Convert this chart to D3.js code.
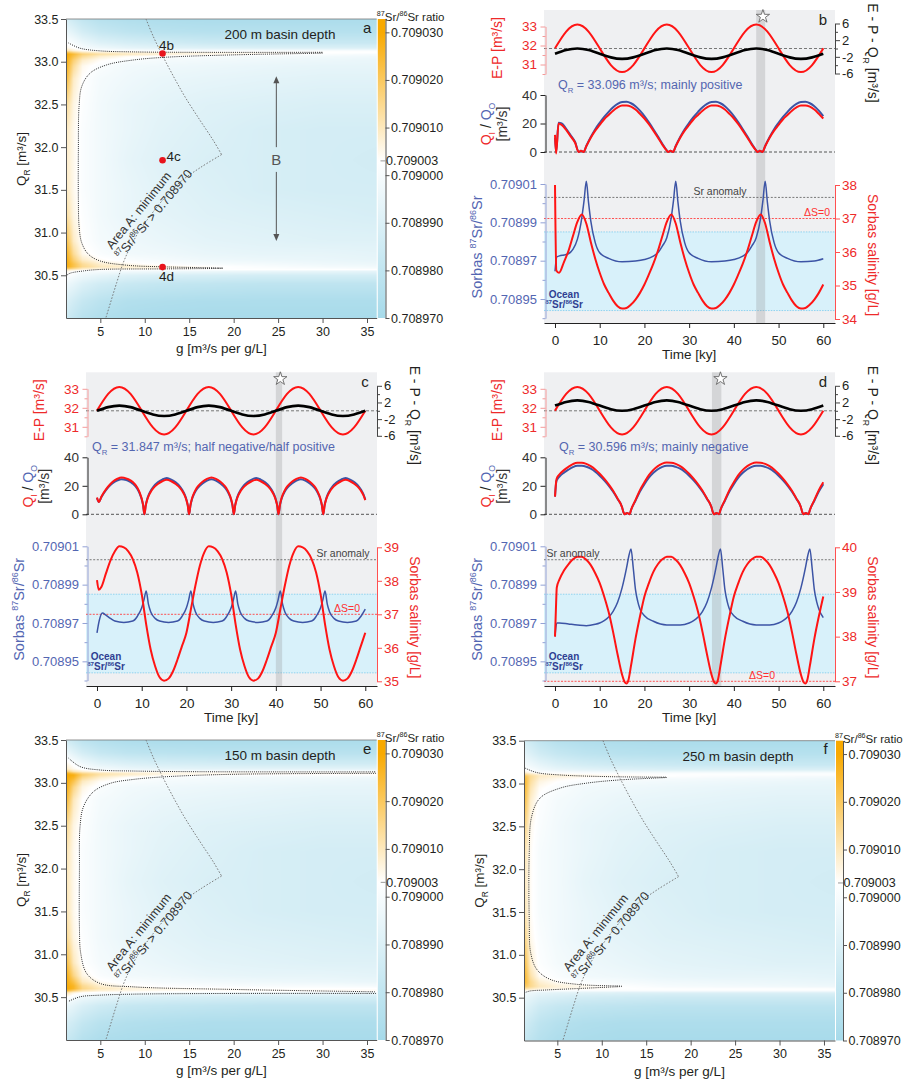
<!DOCTYPE html>
<html><head><meta charset="utf-8">
<script src="https://cdn.jsdelivr.net/npm/d3@7"></script>
<style>
body{margin:0;background:#fff;}
svg{display:block;}
</style></head><body>
<svg id="chart" width="924" height="1080"></svg>
<script>
// ================= DATA =================
// --- heat maps (panels a, e, f) ---
const basinDepths = [200, 150, 250];
const gCols = [1.1, 2, 3, 5, 8, 12, 17, 23, 30, 36.3];
const qrRows = [33.5, 33.35, 33.22, 33.16, 33.13, 33.115, 33.1, 33.085, 33.06, 33.02, 32.95, 32.8, 32.5, 32.2, 31.85, 31.5, 31.2, 30.9, 30.75, 30.68, 30.63, 30.6, 30.58, 30.565, 30.55, 30.5, 30.4, 30.2, 30.0];
// minimum 87Sr/86Sr, given as (ratio - 0.709000) x 1e6
const SR_BASE = 0.709, SR_UNIT = 1e-6;
const srOffsetA = [
[-12,-16,-20,-24,-26,-27,-28,-28,-28,-28],
[-4,-8,-13,-18,-21,-23,-24,-24,-24,-24],
[3,0,-4,-9,-12,-14,-16,-17,-17,-17],
[6,3,0,-3,-6,-8,-9,-10,-10,-10],
[12,7,4,2,1,0,0,0,0,0],
[20,13,8,6,5,4,4,3,3,3],
[27,20,14,10,8,7,6,5,3,2],
[30,24,17,12,9,7,5,3,1,-1],
[30,22,14,8,4,2,0,-1,-2,-3],
[30,18,9,4,1,-1,-2,-3,-4,-5],
[29,14,5,1,-2,-3,-4,-5,-6,-6],
[26,9,3,-1,-3,-5,-6,-7,-8,-8],
[15,6,2,-2,-5,-7,-9,-10,-11,-11],
[10,5,1,-2,-5,-8,-10,-12,-13,-13],
[9,5,1,-2,-6,-9,-11,-12,-13,-14],
[10,5,1,-2,-5,-8,-10,-12,-13,-13],
[14,6,2,-2,-5,-7,-9,-10,-11,-12],
[24,9,3,-1,-3,-5,-7,-8,-9,-9],
[29,14,5,1,-2,-3,-5,-6,-6,-7],
[30,18,9,4,1,-1,-3,-4,-5,-6],
[30,22,14,8,5,2,0,-1,-3,-4],
[29,22,15,10,8,6,4,1,-1,-2],
[22,16,10,7,6,5,3,2,1,0],
[12,9,6,4,3,3,3,3,3,3],
[6,3,1,0,-1,-2,-3,-4,-5,-6],
[3,0,-3,-6,-9,-11,-12,-13,-13,-13],
[-3,-6,-10,-14,-17,-19,-20,-21,-21,-21],
[-10,-14,-18,-22,-25,-26,-27,-27,-27,-27],
[-15,-19,-23,-26,-28,-29,-29,-29,-29,-29]];
const srOffsetE = [
[-14,-18,-22,-25,-27,-28,-28,-28,-28,-28],
[-3,-8,-13,-18,-21,-22,-23,-23,-23,-23],
[6,2,-2,-7,-10,-12,-13,-14,-14,-14],
[10,5,2,-1,-4,-6,-7,-7,-7,-7],
[20,12,8,5,4,3,3,3,3,3],
[28,20,14,10,8,6,5,4,4,4],
[30,26,18,12,9,6,5,4,4,4],
[30,28,18,11,7,4,2,1,1,1],
[30,26,15,8,3,1,-1,-2,-2,-3],
[30,22,10,4,1,-1,-2,-3,-4,-5],
[30,16,6,1,-2,-3,-4,-5,-6,-6],
[27,10,3,-1,-3,-5,-6,-7,-8,-8],
[16,6,2,-2,-5,-7,-9,-10,-11,-11],
[12,5,1,-2,-5,-8,-10,-12,-13,-13],
[11,5,1,-2,-6,-9,-11,-12,-13,-14],
[12,5,1,-2,-5,-8,-10,-12,-13,-13],
[16,6,2,-2,-5,-7,-9,-10,-11,-12],
[25,10,3,-1,-3,-5,-7,-8,-9,-9],
[30,16,6,1,-2,-3,-5,-6,-6,-7],
[30,22,10,4,1,-1,-2,-3,-4,-5],
[30,26,15,8,4,2,1,0,0,-1],
[30,26,16,10,7,5,4,3,3,3],
[28,20,12,8,6,5,4,4,4,4],
[20,13,8,5,4,3,3,3,3,3],
[12,6,3,1,0,-1,-2,-3,-4,-5],
[4,0,-3,-6,-9,-11,-12,-13,-13,-13],
[-4,-7,-11,-15,-18,-19,-20,-21,-21,-21],
[-12,-15,-19,-23,-25,-26,-27,-27,-27,-27],
[-17,-20,-24,-27,-28,-29,-29,-29,-29,-29]];
const srOffsetF = [
[-12,-16,-20,-24,-26,-27,-28,-28,-28,-28],
[-6,-10,-14,-18,-21,-23,-24,-24,-24,-24],
[0,-3,-6,-10,-13,-15,-16,-17,-17,-17],
[4,1,-2,-5,-7,-9,-10,-10,-10,-10],
[8,4,2,1,0,0,-1,-1,-1,-1],
[14,8,5,4,3,2,2,2,2,2],
[20,12,8,6,5,4,3,2,2,2],
[25,14,9,7,5,4,3,1,0,-1],
[28,14,8,5,3,2,0,-1,-2,-3],
[30,13,6,3,1,-1,-2,-3,-4,-5],
[30,11,4,1,-2,-3,-4,-5,-6,-6],
[28,8,2,-1,-3,-5,-6,-7,-8,-8],
[20,5,1,-2,-5,-7,-9,-10,-11,-11],
[14,4,0,-2,-5,-8,-10,-12,-13,-13],
[12,4,0,-2,-6,-9,-11,-12,-13,-14],
[14,4,0,-2,-5,-8,-10,-12,-13,-13],
[20,5,1,-2,-5,-7,-9,-10,-11,-12],
[28,8,2,-1,-3,-5,-7,-8,-9,-9],
[30,12,4,1,-2,-3,-5,-6,-6,-7],
[28,15,8,4,2,0,-2,-3,-4,-5],
[22,15,10,7,5,3,0,-1,-2,-3],
[12,9,6,5,4,3,3,3,3,3],
[5,3,2,1,1,1,1,1,1,1],
[0,-2,-4,-5,-6,-7,-7,-7,-7,-7],
[-2,-4,-6,-8,-9,-10,-11,-11,-11,-11],
[-4,-7,-10,-12,-14,-15,-16,-16,-16,-16],
[-7,-11,-15,-18,-20,-21,-22,-22,-22,-22],
[-13,-17,-21,-24,-26,-27,-27,-27,-27,-27],
[-17,-21,-24,-27,-28,-29,-29,-29,-29,-29]];
const colorTicks = [0.70897, 0.70898, 0.70899, 0.709, 0.70901, 0.70902, 0.70903];
const srAnomaly = 0.709003;
const qrTicks = [30.5, 31, 31.5, 32, 32.5, 33, 33.5];
const gTicks = [5, 10, 15, 20, 25, 30, 35];
// contour 0.709003 (g, QR)
const contourTopA = [[1.41,33.22],[2.72,33.158],[4.97,33.127],[8.71,33.115],[16.2,33.11],[30.0,33.11]];
const contourMidA = [[30.0,33.1],[19.95,33.08],[12.46,33.053],[8.71,33.02],[5.72,32.963],[3.85,32.866],[2.91,32.71],[2.61,32.477],[2.53,31.97],[2.53,31.39],[2.61,31.076],[2.91,30.88],[3.66,30.746],[4.97,30.668],[7.97,30.618],[12.46,30.598],[18.75,30.586]];
const contourBotA = [[18.75,30.58],[12.46,30.575],[4.97,30.568],[3.1,30.551],[1.6,30.524],[1.22,30.5]];
const contourTopE = [[1.41,33.29],[2.72,33.19],[4.97,33.15],[8.71,33.138],[16.2,33.13],[36.0,33.128]];
const contourMidE = [[36.0,33.111],[19.95,33.1],[12.46,33.072],[8.71,33.04],[6.1,32.994],[4.23,32.897],[3.1,32.72],[2.72,32.49],[2.65,31.98],[2.65,31.32],[2.8,31.01],[3.47,30.776],[4.97,30.66],[8.71,30.62],[19.95,30.59],[36.0,30.562]];
const contourBotE = [[36.0,30.543],[19.95,30.543],[8.71,30.535],[4.97,30.523],[2.72,30.504],[1.41,30.45]];
const contourTopF = [[1.37,33.18],[2.69,33.128],[5.3,33.10],[10.9,33.08],[17.3,33.074]];
const contourMidF = [[17.3,33.07],[12.0,33.042],[8.26,33.004],[5.3,32.946],[3.05,32.83],[2.11,32.615],[1.84,32.19],[1.84,31.41],[2.0,31.025],[2.69,30.83],[4.18,30.714],[7.18,30.656],[12.24,30.636]];
const contourBotF = [[12.24,30.63],[7.18,30.606],[3.81,30.59],[1.93,30.578],[1.37,30.56]];
// Area A boundary (minimum 87Sr/86Sr > 0.708970)
const areaAUpper = [[10.14,33.5],[10.96,33.295],[11.97,33.078],[13.21,32.832],[14.56,32.583],[16.21,32.315],[17.7,32.08],[18.64,31.913]];
const areaALower = [[18.64,31.913],[16.21,31.758],[13.96,31.59],[12.08,31.388],[10.59,31.193],[9.27,30.999],[8.34,30.824],[7.59,30.649],[6.85,30.416],[5.64,30.007]];
const runLabels = ['4b', '4c', '4d'];
const runG = [12, 12, 12];
const qrValues = [33.096, 31.847, 30.596];
const qrRegimes = ['mainly positive', 'half negative/half positive', 'mainly negative'];
const arrowB = {g: 24.8, top: 32.83, bottom: 30.9, gapTop: 32.0, gapBottom: 31.71, labelQR: 31.85};

// --- time series (panels b, c, d) ---
const timeTicks = [0, 10, 20, 30, 40, 50, 60];
const timeEP = [0,2.5,5,7.5,10,12.5,15,17.5,20,22.5,25,27.5,30,32.5,35,37.5,40,42.5,45,47.5,50,52.5,55,57.5,60];
const evapPrecip = [31.85,32.73,33.10,32.73,31.85,30.97,30.60,30.97,31.85,32.73,33.10,32.73,31.85,30.97,30.60,30.97,31.85,32.73,33.10,32.73,31.85,30.97,30.60,30.97,31.85];
const netB = [-1.25,-0.37,0,-0.37,-1.25,-2.13,-2.5,-2.13,-1.25,-0.37,0,-0.37,-1.25,-2.13,-2.5,-2.13,-1.25,-0.37,0,-0.37,-1.25,-2.13,-2.5,-2.13,-1.25];
const netC = [0,0.88,1.25,0.88,0,-0.88,-1.25,-0.88,0,0.88,1.25,0.88,0,-0.88,-1.25,-0.88,0,0.88,1.25,0.88,0,-0.88,-1.25,-0.88,0];
const netD = [1.25,2.13,2.5,2.13,1.25,0.37,0,0.37,1.25,2.13,2.5,2.13,1.25,0.37,0,0.37,1.25,2.13,2.5,2.13,1.25,0.37,0,0.37,1.25];

const timeQB = [0,0.25,0.8,1.5,2.5,3.5,4.5,5.3,5.8,6.4,7,8,9,10,11,12,13,14,15,16,17,18,19,20,21,22,23,24,25,25.3,25.8,26.4,27,28,29,30,31,32,33,34,35,36,37,38,39,40,41,42,43,44,45,45.3,45.8,46.4,47,48,49,50,51,52,53,54,55,56,57,58,59,60];
const inflowB = [12,-1,20,19,15.5,11,6.5,0,0.8,0,4,10,15,19,23,26,29,31.3,32.7,32.7,31.8,29.8,26.8,23.5,19.5,15,10.2,5.2,1,0,0.8,0,4,10,15,19,23,26,29,31.3,32.7,32.7,31.8,29.8,26.8,23.5,19.5,15,10.2,5.2,1,0,0.8,0,4,10,15,19,23,26,29,31.3,32.7,32.7,31.8,29.8,26.8,23.5];
const outflowB = [10,0,20.5,20,16.3,11.8,7,0,0.8,0,4.2,10.5,16,20.5,24.6,28.2,31.4,33.8,35.1,35.2,34.2,32.1,29,25.2,20.8,16,11,5.8,1.1,0,0.8,0,4.2,10.5,16,20.5,24.6,28.2,31.4,33.8,35.1,35.2,34.2,32.1,29,25.2,20.8,16,11,5.8,1.1,0,0.8,0,4.2,10.5,16,20.5,24.6,28.2,31.4,33.8,35.1,35.2,34.2,32.1,29,25.2];
const timeQC = [0,0.4,1,2,3,4,5,5.5,6,7,8,9,9.6,10,10.3,10.6,10.9,11.2,11.6,12.1,12.6,13.6,14.6,15.6,16.6,17.6,18.6,19.1,19.6,20,20.3,20.6,20.9,21.2,21.6,22.1,22.6,23.6,24.6,25.6,26.6,27.6,28.6,29.1,29.6,30,30.3,30.6,30.9,31.2,31.6,32.1,32.6,33.6,34.6,35.6,36.6,37.6,38.6,39.1,39.6,40,40.3,40.6,40.9,41.2,41.6,42.1,42.6,43.6,44.6,45.6,46.6,47.6,48.6,49.1,49.6,50,50.3,50.6,50.9,51.2,51.6,52.1,52.6,53.6,54.6,55.6,56.6,57.6,58.6,59.1,59.6,60];
const inflowC = [11.8,8.7,12.5,17.5,21.3,24,25.5,25.9,25.7,24.6,22.6,18.8,14.8,11,6.8,0,
6.1,9.9,13.3,16.2,18.4,21.3,23.2,24.2,23.2,21.3,18.4,16.2,13.3,9.9,6.1,0,
6.5,10.6,14.2,17.4,19.7,22.8,24.9,25.9,24.9,22.8,19.7,17.4,14.2,10.6,6.5,0,
6.1,9.9,13.3,16.2,18.4,21.3,23.2,24.2,23.2,21.3,18.4,16.2,13.3,9.9,6.1,0,
6.5,10.6,14.2,17.4,19.7,22.8,24.9,25.9,24.9,22.8,19.7,17.4,14.2,10.6,6.5,0,
6.1,9.9,13.3,16.2,18.4,21.3,23.2,24.2,23.2,21.3,18.4,16.2,13.3,9.9];
const outflowC = [11.5,8.7,12.2,17,20.6,23,24.3,24.6,24.4,23.5,21.5,17.9,14.1,10.5,6.5,0,
6.4,10.4,14,17,19.3,22.4,24.4,25.4,24.4,22.4,19.3,17,14,10.4,6.4,0,
6.2,10.1,13.5,16.5,18.7,21.6,23.6,24.6,23.6,21.6,18.7,16.5,13.5,10.1,6.2,0,
6.4,10.4,14,17,19.3,22.4,24.4,25.4,24.4,22.4,19.3,17,14,10.4,6.4,0,
6.2,10.1,13.5,16.5,18.7,21.6,23.6,24.6,23.6,21.6,18.7,16.5,13.5,10.1,6.2,0,
6.4,10.4,14,17,19.3,22.4,24.4,25.4,24.4,22.4,19.3,17,14,10.4];
const timeQD = [0,0.3,0.6,1,2,3,4,5,6,7,8,9,10,11,12,13,14,15,15.3,15.6,16.1,16.7,17,18,19,20,21,22,23,24,25,26,27,28,29,30,31,32,33,34,35,35.3,35.6,36.1,36.7,37,38,39,40,41,42,43,44,45,46,47,48,49,50,51,52,53,54,55,55.3,55.6,56.1,56.7,57,58,59,60];
const inflowD = [12.4,24,26.5,28,31,33.3,35.2,36.2,36.2,35.4,33.8,31.5,28.5,25,21,16.5,11,5,1.5,0,1,0,
3,10,17,22.5,27.5,31.2,33.8,35.6,36.3,36.2,35.4,33.8,31.5,28.5,25,21,16.5,11,5,1.5,0,1,0,
3,10,17,22.5,27.5,31.2,33.8,35.6,36.3,36.2,35.4,33.8,31.5,28.5,25,21,16.5,11,5,1.5,0,1,0,
3,10,17,22.5];
const outflowD = [12.4,23,25,26.5,29.2,31.3,33.1,34,34,33.4,32,29.9,27.1,23.9,20.2,15.9,10.8,5,1.5,0,1,0,
3,9.5,16,21.2,25.7,29.1,31.6,33.3,34,34,33.3,32,29.9,27.1,23.9,20.2,15.9,10.8,5,1.5,0,1,0,
3,9.5,16,21.2,25.7,29.1,31.6,33.3,34,34,33.3,32,29.9,27.1,23.9,20.2,15.9,10.8,5,1.5,0,1,0,
3,9.5,16,21.2];

const timeSrB = [0,0.4,1,2,3,4,5,6,6.5,7,7.5,8,9,10,12,15,18,20,22,23,24,25,26,26.5,27,27.5,28,29,30,32,35,38,40,42,43,44,45,46,46.5,47,47.5,48,49,50,52,55,58,60];
const srB = [0.7089645,0.7089719,0.7089725,0.708973,0.7089736,0.7089759,0.7089811,0.7089925,0.7090013,0.7090114,0.7090004,0.7089908,0.7089794,0.7089741,
0.7089712,0.7089694,0.7089698,0.7089706,0.7089724,0.7089741,0.7089776,0.708982,
0.7089925,0.7090013,0.7090114,0.7090004,0.7089908,0.7089794,0.7089741,
0.7089712,0.7089694,0.7089698,0.7089706,0.7089724,0.7089741,0.7089776,0.708982,
0.7089925,0.7090013,0.7090114,0.7090004,0.7089908,0.7089794,0.7089741,
0.7089712,0.7089694,0.7089698,0.708971];
const timeSrC = [0,0.5,1.2,2,3,4,6,8,9,10,10.5,11,11.5,12,13,14,16,18,19,20,20.5,21,21.5,22,23,24,26,28,29,30,30.5,31,31.5,32,33,34,36,38,39,40,40.5,41,41.5,42,43,44,46,48,49,50,50.5,51,51.5,52,53,54,56,58,59,60];
const srC = [0.7089648,0.7089712,0.7089752,0.7089741,0.7089724,0.708971,0.7089703,
0.708971,0.7089734,0.7089779,0.708982,0.7089867,0.7089798,0.7089759,0.7089724,0.708971,0.7089703,
0.708971,0.7089734,0.7089779,0.708982,0.7089867,0.7089798,0.7089759,0.7089724,0.708971,0.7089703,
0.708971,0.7089734,0.7089779,0.708982,0.7089867,0.7089798,0.7089759,0.7089724,0.708971,0.7089703,
0.708971,0.7089734,0.7089779,0.708982,0.7089867,0.7089798,0.7089759,0.7089724,0.708971,0.7089703,
0.708971,0.7089734,0.7089779,0.708982,0.7089867,0.7089798,0.7089759,0.7089724,0.708971,0.7089703,
0.708971,0.7089734,0.7089772];
const timeSrD = [0,0.4,1,3,5,7,9,10,11,12,13,14,15,16,16.5,17,17.5,18,18.5,19,20,22,25,28,30,31,32,33,34,35,36,36.5,37,37.5,38,38.5,39,40,42,45,48,50,51,52,53,54,55,56,56.5,57,57.5,58,58.5,59,60];
const srD = [0.708963,0.70897,0.70897,0.7089695,0.708969,0.7089686,0.7089693,
0.70897,0.7089712,0.7089731,0.7089761,0.7089808,0.7089883,0.7089987,0.7090048,0.7090086,0.7089987,0.7089874,0.7089813,0.7089773,0.7089738,
0.7089709,0.708969,0.708969,
0.70897,0.7089712,0.7089731,0.7089761,0.7089808,0.7089883,0.7089987,0.7090048,0.7090086,0.7089987,0.7089874,0.7089813,0.7089773,0.7089738,
0.7089709,0.708969,0.708969,
0.70897,0.7089712,0.7089731,0.7089761,0.7089808,0.7089883,0.7089987,0.7090048,0.7090086,0.7089987,0.7089874,0.7089813,0.7089773,0.7089728];

const timeSalB = [0,0.3,0.9,2,3,4,5,6,7,8,9,10,11,12,13,14,15,16,17,18,19,20,21,22,23,24,25,26,27,28,29,30,31,32,33,34,35,36,37,38,39,40,41,42,43,44,45,46,47,48,49,50,51,52,53,54,55,56,57,58,59,60];
const salinityB = [38,35.45,35.38,35.7,36.03,36.47,36.9,
37.12,36.85,36.3,35.8,35.38,35.03,34.78,34.55,34.38,34.31,34.33,34.43,34.58,34.78,35.03,35.33,35.65,36.03,36.47,36.9,
37.12,36.85,36.3,35.8,35.38,35.03,34.78,34.55,34.38,34.31,34.33,34.43,34.58,34.78,35.03,35.33,35.65,36.03,36.47,36.9,
37.12,36.85,36.3,35.8,35.38,35.03,34.78,34.55,34.38,34.31,34.33,34.43,34.58,34.78,35.03];
const timeSalC = [0,0.4,1,2,3,4,5,6,7,8,9,10,11,12,13,14,15,16,17,18,19,20,21,22,23,24,25,26,27,28,29,30,31,32,33,34,35,36,37,38,39,40,41,42,43,44,45,46,47,48,49,50,51,52,53,54,55,56,57,58,59,60];
const salinityC = [38.02,37.73,37.82,38.22,38.6,38.88,39.03,
39.0,38.88,38.65,38.25,37.6,36.7,35.95,35.45,35.12,35.02,35.08,35.3,35.65,36.05,36.45,37.15,37.85,38.45,38.85,39.03,
39.0,38.88,38.65,38.25,37.6,36.7,35.95,35.45,35.12,35.02,35.08,35.3,35.65,36.05,36.45,37.15,37.85,38.45,38.85,39.03,
39.0,38.88,38.65,38.25,37.6,36.7,35.95,35.45,35.12,35.02,35.08,35.3,35.65,36.05,36.45];
const timeSalD = [0,0.2,0.4,1,2,3,4,5,6,7,8,9,10,11,12,13,14,15,15.6,16,16.4,17,18,19,20,21,22,23,24,25,26,27,28,29,30,31,32,33,34,35,35.6,36,36.4,37,38,39,40,41,42,43,44,45,46,47,48,49,50,51,52,53,54,55,55.6,56,56.4,57,58,59,60];
const salinityD = [38,38.6,39.1,39.28,39.48,39.62,39.73,39.79,
39.79,39.72,39.6,39.42,39.2,38.9,38.55,38.1,37.6,37.15,36.98,36.95,37.02,
37.35,37.95,38.45,38.9,39.2,39.45,39.62,39.73,39.79,39.79,39.72,39.6,39.42,39.2,38.9,38.55,38.1,37.6,37.15,36.98,36.95,37.02,
37.35,37.95,38.45,38.9,39.2,39.45,39.62,39.73,39.79,39.79,39.72,39.6,39.42,39.2,38.9,38.55,38.1,37.6,37.15,36.98,36.95,37.02,
37.35,37.95,38.45,38.9];
const oceanSr = [0.708944, 0.708985];
const salinityZero = 37; // ΔS = 0
const highlightB = [45, 47], highlightC = [40.0, 41.4], highlightD = [35.1, 37.2];
const starT = [46.5, 41.0, 37.0];

// ================= DRAWING =================
const FONT = 'Arial, "Liberation Sans", Helvetica, sans-serif';
const RED = '#ff1414', RED_TXT = '#ee2a2a', RED_AX = '#f59a9a';
const BLUE_LINE = '#3c54a5', BLUE_TXT = '#5366b2', BLUE_AX = '#93a2d6';
const TXT = '#231f20';
const svg = d3.select('#chart').attr('font-family', FONT);
const defs = svg.append('defs');

function rich(parent, o) {
  const size = o.size;
  const t = parent.append('text')
    .attr('transform', `translate(${o.x},${o.y}) rotate(${o.rotate || 0})`)
    .attr('y', o.center ? size * 0.35 : 0)
    .attr('font-size', size).attr('fill', o.fill || TXT)
    .attr('text-anchor', o.anchor || 'middle');
  if (o.weight) t.attr('font-weight', o.weight);
  let shift = 0;
  o.parts.forEach(p => {
    if (typeof p === 'string') p = {t: p};
    const target = p.sub ? size * 0.3 : (p.sup ? -size * 0.4 : 0);
    const ts = t.append('tspan').text(p.t);
    if (target - shift !== 0) ts.attr('dy', target - shift);
    if (p.sub || p.sup) ts.attr('font-size', size * 0.62);
    if (p.fill) ts.attr('fill', p.fill);
    shift = target;
  });
  return t;
}
function styleAxis(sel, lineColor, textColor, size) {
  sel.attr('font-family', FONT).attr('font-size', size);
  sel.selectAll('path.domain').attr('stroke', lineColor).attr('stroke-width', 1);
  sel.selectAll('.tick line').attr('stroke', lineColor);
  sel.selectAll('.tick text').attr('fill', textColor);
}
function hLine(G, x0, x1, y, color, dash, w) {
  G.append('line').attr('x1', x0).attr('x2', x1).attr('y1', y).attr('y2', y)
    .attr('stroke', color).attr('stroke-width', w || 0.9).attr('stroke-dasharray', dash);
}

// ---- colour scale for Sr ratio ----
const srColor = d3.scaleLinear().domain([0.70897, 0.709003, 0.70903])
  .range(['#a6daea', '#ffffff', '#f8a900']).clamp(true);
const LUT = d3.range(0, 801).map(k => d3.rgb(srColor(0.70896 + k * 1e-7)));
function colorAt(v) {
  const k = Math.max(0, Math.min(800, Math.round((v - 0.70896) / 1e-7)));
  return LUT[k];
}

function drawHeat(p) {
  const G = svg.append('g');
  const x = d3.scaleLinear().domain(p.gDomain).range([p.x0, p.x1]);
  const y = d3.scaleLinear().domain([30, 33.5]).range([p.y1, p.y0]);
  const W = Math.round(p.x1 - p.x0), H = Math.round(p.y1 - p.y0);
  const cv = document.createElement('canvas'); cv.width = W; cv.height = H;
  const ctx = cv.getContext('2d');
  const img = ctx.createImageData(W, H);
  const rows = qrRows.slice().reverse();
  const mat = p.grid.slice().reverse();
  for (let py = 0; py < H; py++) {
    const q = y.invert(p.y0 + (py + 0.5) * (p.y1 - p.y0) / H);
    const j = Math.max(0, Math.min(rows.length - 2, d3.bisectRight(rows, q) - 1));
    const tq = Math.max(0, Math.min(1, (q - rows[j]) / (rows[j + 1] - rows[j])));
    for (let px = 0; px < W; px++) {
      const gv = x.invert(p.x0 + (px + 0.5) * (p.x1 - p.x0) / W);
      const i = Math.max(0, Math.min(gCols.length - 2, d3.bisectRight(gCols, gv) - 1));
      const tg = Math.max(0, Math.min(1, (gv - gCols[i]) / (gCols[i + 1] - gCols[i])));
      const a = mat[j][i] + (mat[j][i + 1] - mat[j][i]) * tg;
      const b = mat[j + 1][i] + (mat[j + 1][i + 1] - mat[j + 1][i]) * tg;
      const c = colorAt(SR_BASE + (a + (b - a) * tq) * SR_UNIT);
      const k = (py * W + px) * 4;
      img.data[k] = c.r; img.data[k + 1] = c.g; img.data[k + 2] = c.b; img.data[k + 3] = 255;
    }
  }
  ctx.putImageData(img, 0, 0);
  G.append('image').attr('x', p.x0).attr('y', p.y0).attr('width', p.x1 - p.x0).attr('height', p.y1 - p.y0)
    .attr('preserveAspectRatio', 'none').attr('href', cv.toDataURL());

  const line = d3.line().x(d => x(d[0])).y(d => y(d[1])).curve(d3.curveCatmullRom.alpha(0.5));
  p.contours.forEach(c => G.append('path').attr('d', line(c)).attr('fill', 'none')
    .attr('stroke', '#2a2a2a').attr('stroke-width', 1).attr('stroke-dasharray', '1 1.1'));
  [areaAUpper, areaALower].forEach(c => G.append('path').attr('d', line(c)).attr('fill', 'none')
    .attr('stroke', '#707070').attr('stroke-width', 0.9).attr('stroke-dasharray', '1.6 1.6'));

  rich(G, {x: x(9.3), y: y(31.26), rotate: -51, size: 12.5, fill: '#333', center: true, parts: ['Area A: minimum']});
  rich(G, {x: x(11.0), y: y(31.24) + 2, rotate: -50, size: 12.5, fill: '#333', center: true,
    parts: [{t: '87', sup: true}, 'Sr/', {t: '86', sup: true}, 'Sr > 0.708970']});

  G.append('line').attr('x1', p.x0).attr('x2', p.x1).attr('y1', p.y0).attr('y2', p.y0).attr('stroke', '#777').attr('stroke-width', 0.8);
  const ya = G.append('g').attr('transform', `translate(${p.x0},0)`)
    .call(d3.axisLeft(y).tickValues(qrTicks).tickFormat(d3.format('.1f')).tickSize(5).tickSizeOuter(0).tickPadding(2.5));
  styleAxis(ya, '#555', TXT, 12.5);
  const xa = G.append('g').attr('transform', `translate(0,${p.y1})`)
    .call(d3.axisBottom(x).tickValues(gTicks).tickSize(5).tickSizeOuter(0).tickPadding(4));
  styleAxis(xa, '#555', TXT, 12.5);
  G.append('text').attr('x', (p.x0 + p.x1) / 2).attr('y', p.y1 + 35).attr('text-anchor', 'middle')
    .attr('font-size', 13.5).attr('fill', TXT).text('g [m³/s per g/L]');
  rich(G, {x: p.x0 - 45, y: p.y0 + 140, rotate: -90, size: 13.5, center: true, parts: ['Q', {t: 'R', sub: true}, ' [m³/s]']});

  G.append('text').attr('x', p.x0 + 214).attr('y', p.y0 + 20).attr('text-anchor', 'middle')
    .attr('font-size', 13.5).attr('fill', TXT).text(p.depth + ' m basin depth');
  G.append('text').attr('x', p.x1 - 9.5).attr('y', p.y0 + 13.5).attr('text-anchor', 'middle')
    .attr('font-size', 15).attr('fill', TXT).text(p.letter);

  // colour bar
  const cb = d3.scaleLinear().domain([0.70897, 0.7090328]).range([p.y1, p.y0]);
  const gid = 'cbg' + p.letter;
  const grad = defs.append('linearGradient').attr('id', gid).attr('x1', 0).attr('y1', 0).attr('x2', 0).attr('y2', 1);
  [0.7090328, 0.70903, 0.709003, 0.70897].forEach(v => grad.append('stop')
    .attr('offset', (cb(v) - p.y0) / (p.y1 - p.y0)).attr('stop-color', srColor(v)));
  G.append('rect').attr('x', p.cbx0).attr('y', p.y0).attr('width', p.cbx1 - p.cbx0).attr('height', p.y1 - p.y0)
    .attr('fill', `url(#${gid})`);
  const ca = G.append('g').attr('transform', `translate(${p.cbx1},0)`)
    .call(d3.axisRight(cb).tickValues(colorTicks).tickFormat(d3.format('.6f')).tickSize(4).tickSizeOuter(0).tickPadding(1.5));
  styleAxis(ca, '#555', TXT, 12.5);
  G.append('line').attr('x1', p.cbx1 - 5).attr('x2', p.cbx1).attr('y1', cb(srAnomaly)).attr('y2', cb(srAnomaly))
    .attr('stroke', '#999').attr('stroke-width', 1);
  G.append('text').attr('x', p.cbx1 + 0.5).attr('y', cb(srAnomaly)).attr('dy', '0.35em')
    .attr('font-size', 12.5).attr('fill', TXT).text(d3.format('.6f')(srAnomaly));
  rich(G, {x: p.cbx0 - 1, y: p.y0 + 2, size: 11.5, anchor: 'start',
    parts: [{t: '87', sup: true}, 'Sr/', {t: '86', sup: true}, 'Sr ratio']});

  if (p.points) {
    const ax = x(arrowB.g);
    G.append('line').attr('x1', ax).attr('x2', ax).attr('y1', y(arrowB.top) + 3).attr('y2', y(arrowB.gapTop)).attr('stroke', '#555').attr('stroke-width', 1);
    G.append('line').attr('x1', ax).attr('x2', ax).attr('y1', y(arrowB.gapBottom)).attr('y2', y(arrowB.bottom) - 3).attr('stroke', '#555').attr('stroke-width', 1);
    G.append('path').attr('d', `M${ax - 3},${y(arrowB.top) + 7}L${ax},${y(arrowB.top)}L${ax + 3},${y(arrowB.top) + 7}Z`).attr('fill', '#555');
    G.append('path').attr('d', `M${ax - 3},${y(arrowB.bottom) - 7}L${ax},${y(arrowB.bottom)}L${ax + 3},${y(arrowB.bottom) - 7}Z`).attr('fill', '#555');
    G.append('text').attr('x', ax).attr('y', y(arrowB.labelQR)).attr('dy', '0.36em').attr('text-anchor', 'middle')
      .attr('font-size', 15).attr('fill', '#555').text('B');
    runLabels.forEach((lab, k) => {
      const px = x(runG[k]), py = y(qrValues[k]);
      G.append('circle').attr('cx', px).attr('cy', py).attr('r', 3.3).attr('fill', '#e8141c');
      const t = G.append('text').attr('font-size', 13.5).attr('fill', TXT).text(lab);
      if (k === 0) t.attr('x', px + 4).attr('y', py - 4).attr('text-anchor', 'middle');
      if (k === 1) t.attr('x', px + 4).attr('y', py + 1).attr('text-anchor', 'start');
      if (k === 2) t.attr('x', px + 4).attr('y', py + 14).attr('text-anchor', 'middle');
    });
  }
}

const timeDomain = [-2.46, 62.62];
function drawSeries(p) {
  const G = svg.append('g');
  const X = d3.scaleLinear().domain(timeDomain).range([p.gx0, p.gx1]);
  const t0 = p.gy0;
  const yEP = d3.scaleLinear().domain([30.5, 33]).range([t0 + 64, t0 + 16.5]);
  const yNet = d3.scaleLinear().domain([-6, 6]).range([t0 + 63.5, t0 + 13.5]);
  const yQ = d3.scaleLinear().domain([0, 40]).range([t0 + 142, t0 + 85]);
  const ySr = d3.scaleLinear().domain([0.70894, 0.70901]).range([t0 + 308.2, t0 + 174]);
  const ySal = d3.scaleLinear().domain(p.salDomain).range([t0 + 309, t0 + 175]);
  const W = p.gx1 - p.gx0, Ht = p.gy1 - p.gy0;

  G.append('rect').attr('x', p.gx0).attr('y', p.gy0).attr('width', W).attr('height', Ht).attr('fill', '#eff0f2');
  G.append('rect').attr('x', p.gx0).attr('width', W).attr('y', ySr(oceanSr[1])).attr('height', ySr(oceanSr[0]) - ySr(oceanSr[1]))
    .attr('fill', '#d8f1fa');
  oceanSr.forEach(v => hLine(G, p.gx0, p.gx1, ySr(v), '#86cfee', '1.5 1.2', 0.9));
  G.append('rect').attr('x', X(p.band[0])).attr('width', X(p.band[1]) - X(p.band[0])).attr('y', p.gy0).attr('height', Ht)
    .attr('fill', '#8e8e94').attr('opacity', 0.28);

  hLine(G, p.gx0, p.gx1, yNet(0), '#6a6a6a', '3 2', 0.9);
  hLine(G, p.gx0, p.gx1, yQ(0), '#444', '3 2', 0.9);
  hLine(G, p.gx0, p.gx1, ySr(srAnomaly), '#6a6a6a', '2 1.6', 0.9);
  hLine(G, p.gx0, p.gx1, ySal(salinityZero), '#ff4040', '2 1.4', 0.9);

  const mk = (xs, ys, yS, curve) => d3.line().x((d, i) => X(xs[i])).y(d => yS(d)).curve(curve)(ys);
  G.append('path').attr('d', mk(timeEP, evapPrecip, yEP, d3.curveNatural)).attr('fill', 'none').attr('stroke', RED).attr('stroke-width', 2);
  G.append('path').attr('d', mk(timeEP, p.net, yNet, d3.curveNatural)).attr('fill', 'none').attr('stroke', '#000').attr('stroke-width', 2.6);
  G.append('path').attr('d', mk(p.qT, p.qO, yQ, d3.curveMonotoneX)).attr('fill', 'none').attr('stroke', BLUE_LINE).attr('stroke-width', 2);
  G.append('path').attr('d', mk(p.qT, p.qI, yQ, d3.curveMonotoneX)).attr('fill', 'none').attr('stroke', RED).attr('stroke-width', 2);
  G.append('path').attr('d', mk(p.srT, p.sr, ySr, d3.curveMonotoneX)).attr('fill', 'none').attr('stroke', BLUE_LINE).attr('stroke-width', 1.5);
  G.append('path').attr('d', mk(p.salT, p.sal, ySal, d3.curveMonotoneX)).attr('fill', 'none').attr('stroke', RED).attr('stroke-width', 2);

  G.append('path').attr('d', d3.symbol(d3.symbolStar, 55)()).attr('transform', `translate(${X(p.star)},${t0 + 6.5})`)
    .attr('fill', '#fff').attr('stroke', '#666').attr('stroke-width', 0.9);

  rich(G, {x: p.gx0 + p.qrX, y: t0 + 79, size: 12.5, anchor: 'start', fill: '#5466b0',
    parts: ['Q', {t: 'R', sub: true}, ` = ${p.qr} m³/s; ${p.regime}`]});
  G.append('text').attr('x', p.gx0 + p.anomX).attr('y', ySr(srAnomaly) - 2.5).attr('text-anchor', 'middle')
    .attr('font-size', 10.5).attr('fill', '#444').text('Sr anomaly');
  G.append('text').attr('x', p.gx0 + p.dsX).attr('y', ySal(salinityZero) - 2.5).attr('text-anchor', 'middle')
    .attr('font-size', 10.5).attr('fill', '#ff3030').text('ΔS=0');
  G.append('text').attr('x', p.gx0 + 20).attr('y', t0 + 287.5).attr('text-anchor', 'middle')
    .attr('font-size', 10).attr('font-weight', 'bold').attr('fill', '#2f3f92').text('Ocean');
  rich(G, {x: p.gx0 + 20, y: t0 + 298, size: 10, weight: 'bold', fill: '#2f3f92',
    parts: [{t: '87', sup: true}, 'Sr/', {t: '86', sup: true}, 'Sr']});
  G.append('text').attr('x', p.gx1 - 12).attr('y', t0 + 15).attr('text-anchor', 'middle')
    .attr('font-size', 15).attr('fill', TXT).text(p.letter);

  const ax0 = p.gx0 + 1.5;
  const aEP = G.append('g').attr('transform', `translate(${ax0},0)`)
    .call(d3.axisLeft(yEP).tickValues([31, 32, 33]).tickFormat(d3.format('d')).tickSize(5).tickSizeOuter(0).tickPadding(3.5));
  styleAxis(aEP, RED_AX, RED_TXT, 13.5);
  G.append('g').attr('transform', `translate(${ax0},0)`)
    .call(d3.axisLeft(yEP).tickValues([30.5, 31.5, 32.5]).tickSize(3).tickFormat(''))
    .call(s => s.select('.domain').remove()).selectAll('line').attr('stroke', RED_AX);

  const aNet = G.append('g').attr('transform', `translate(${p.gx1},0)`)
    .call(d3.axisRight(yNet).tickValues([-6, -2, 2, 6]).tickFormat(d => String(d)).tickSize(5).tickSizeOuter(0).tickPadding(2));
  styleAxis(aNet, '#444', TXT, 13);
  G.append('g').attr('transform', `translate(${p.gx1},0)`)
    .call(d3.axisRight(yNet).tickValues([-4, 0, 4]).tickSize(3).tickFormat(''))
    .call(s => s.select('.domain').remove()).selectAll('line').attr('stroke', '#444');

  const aQ = G.append('g').attr('transform', `translate(${ax0},0)`)
    .call(d3.axisLeft(yQ).tickValues([0, 20, 40]).tickSize(5).tickSizeOuter(0).tickPadding(3.5));
  styleAxis(aQ, '#222', '#333', 13.5);

  const aSr = G.append('g').attr('transform', `translate(${ax0},0)`)
    .call(d3.axisLeft(ySr).tickValues([0.70895, 0.70897, 0.70899, 0.70901]).tickFormat(d3.format('.5f')).tickSize(5).tickSizeOuter(0).tickPadding(3.5));
  styleAxis(aSr, BLUE_AX, BLUE_TXT, 13);
  G.append('g').attr('transform', `translate(${ax0},0)`)
    .call(d3.axisLeft(ySr).tickValues([0.70894, 0.70896, 0.70898, 0.709]).tickSize(3).tickFormat(''))
    .call(s => s.select('.domain').remove()).selectAll('line').attr('stroke', BLUE_AX);

  const aSal = G.append('g').attr('transform', `translate(${p.gx1},0)`)
    .call(d3.axisRight(ySal).tickValues(p.salTicks).tickFormat(d3.format('d')).tickSize(5).tickSizeOuter(0).tickPadding(2));
  styleAxis(aSal, '#ff5050', RED_TXT, 13.5);

  const aT = G.append('g').attr('transform', `translate(0,${p.gy1})`)
    .call(d3.axisBottom(X).tickValues(timeTicks).tickSize(5).tickSizeOuter(0).tickPadding(7.5));
  styleAxis(aT, '#222', TXT, 13.5);
  G.append('text').attr('x', X(30)).attr('y', p.gy1 + 36).attr('text-anchor', 'middle')
    .attr('font-size', 13.5).attr('fill', TXT).text('Time [ky]');

  rich(G, {x: p.gx0 - 47, y: t0 + 38, rotate: -90, size: 14, center: true, fill: RED_TXT, parts: ['E-P [m³/s]']});
  rich(G, {x: p.gx0 - 58, y: t0 + 114, rotate: -90, size: 14, center: true,
    parts: [{t: 'Q', fill: RED_TXT}, {t: 'I', sub: true, fill: RED_TXT}, ' / ', {t: 'Q', fill: BLUE_TXT}, {t: 'O', sub: true, fill: BLUE_TXT}]});
  rich(G, {x: p.gx0 - 42, y: t0 + 114, rotate: -90, size: 14, center: true, fill: '#333', parts: ['[m³/s]']});
  rich(G, {x: p.gx0 - 67, y: t0 + 237, rotate: -90, size: 14.5, center: true, fill: BLUE_TXT,
    parts: ['Sorbas ', {t: '87', sup: true}, 'Sr/', {t: '86', sup: true}, 'Sr']});
  rich(G, {x: p.gx1 + 37.5, y: t0 + 43, rotate: 90, size: 14, center: true,
    parts: ['E - P - Q', {t: 'R', sub: true}, ' [m³/s]']});
  rich(G, {x: p.gx1 + 37.5, y: t0 + 245, rotate: 90, size: 14, center: true, fill: RED_TXT, parts: ['Sorbas salinity [g/L]']});
}

const heatPanels = [
  {letter: 'a', depth: basinDepths[0], grid: srOffsetA, contours: [contourTopA, contourMidA, contourBotA],
   x0: 66, x1: 376.7, y0: 19, y1: 318, gDomain: [1.14, 36.09], cbx0: 377.8, cbx1: 385.5, points: true},
  {letter: 'e', depth: basinDepths[1], grid: srOffsetE, contours: [contourTopE, contourMidE, contourBotE],
   x0: 66, x1: 376.7, y0: 740, y1: 1040, gDomain: [1.14, 36.09], cbx0: 377.8, cbx1: 385.7},
  {letter: 'f', depth: basinDepths[2], grid: srOffsetF, contours: [contourTopF, contourMidF, contourBotF],
   x0: 524, x1: 835, y0: 740.7, y1: 1040.5, gDomain: [1.25, 36.24], cbx0: 836, cbx1: 843}
];
heatPanels.forEach(drawHeat);

const seriesPanels = [
  {letter: 'b', gx0: 544, gx1: 835, gy0: 10, gy1: 323, salDomain: [34, 38], salTicks: [34, 35, 36, 37, 38],
   net: netB, qT: timeQB, qI: inflowB, qO: outflowB, srT: timeSrB, sr: srB, salT: timeSalB, sal: salinityB,
   band: highlightB, star: starT[0], qr: qrValues[0], regime: qrRegimes[0], qrX: 14, anomX: 176, dsX: 273},
  {letter: 'c', gx0: 86, gx1: 377, gy0: 372.3, gy1: 686, salDomain: [35, 39], salTicks: [35, 36, 37, 38, 39],
   net: netC, qT: timeQC, qI: inflowC, qO: outflowC, srT: timeSrC, sr: srC, salT: timeSalC, sal: salinityC,
   band: highlightC, star: starT[1], qr: qrValues[1], regime: qrRegimes[1], qrX: 6, anomX: 257, dsX: 261},
  {letter: 'd', gx0: 544, gx1: 835, gy0: 372.3, gy1: 686, salDomain: [37, 40], salTicks: [37, 38, 39, 40],
   net: netD, qT: timeQD, qI: inflowD, qO: outflowD, srT: timeSrD, sr: srD, salT: timeSalD, sal: salinityD,
   band: highlightD, star: starT[2], qr: qrValues[2], regime: qrRegimes[2], qrX: 15, anomX: 29, dsX: 218}
];
seriesPanels.forEach(drawSeries);
</script></body></html>
